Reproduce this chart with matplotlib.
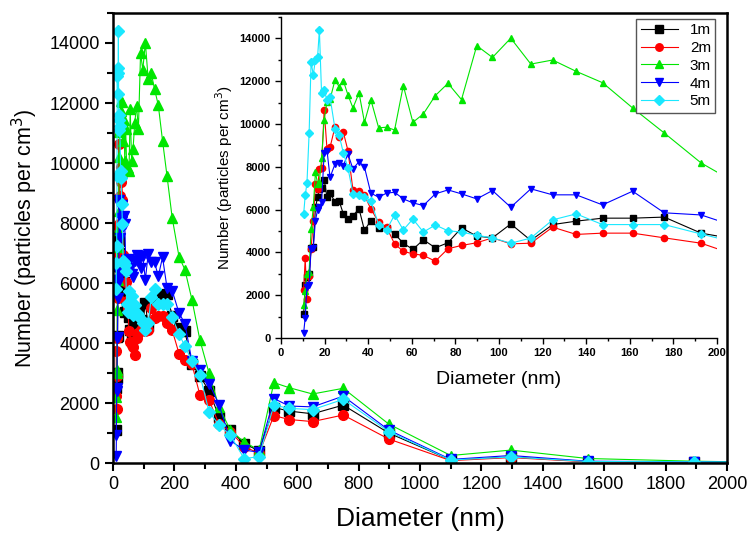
import matplotlib
matplotlib.use('Agg')
import matplotlib.pyplot as plt
from matplotlib.ticker import MultipleLocator

plt.rcParams['font.family'] = ['Liberation Sans', 'DejaVu Sans']

# diameters (nm), shared by all series
diam = [10.4, 11.1, 11.9, 12.9, 13.8, 14.8, 15.8, 16.8, 17.6, 18.6,
        19.8, 21.1, 22.5, 24.8, 26.6, 28.6, 30.7, 33.0, 35.8, 38.3,
        41.2, 44.8, 48.4, 52.1, 56.1, 60.5, 65.3, 70.8, 76.6, 82.8,
        89.8, 97.0, 105.4, 114.6, 124.6, 135.4, 147.5, 161.3, 175.8, 192.7,
        215, 234, 257, 283, 313, 345, 382, 427, 476,
        524, 574, 650, 750, 898, 1100, 1296, 1546, 1892, 2300]

n_1m = [1100, 2500, 2850, 3000, 4215, 4250, 6100, 6580, 6950, 7000,
        7400, 6580, 6770, 6350, 6420, 5800, 5570, 5720, 6035, 5025,
        5490, 5130, 5130, 4870, 4430, 4140, 4590, 4215, 4450, 5150,
        4760, 4680, 5330, 4560, 5300, 5460, 5600, 5600, 5650, 4900,
        4500, 4400, 3300, 2900, 2400, 1550, 1100, 650, 400,
        1850, 1730, 1640, 1930, 1000, 100, 200, 50, 30, 0]

n_2m = [2250, 3730, 1800, 2900, 4170, 5490, 7200, 6970, 7900, 7950,
        10650, 8835, 8910, 9880, 9380, 9610, 8760, 6920, 6860, 6660,
        6035, 5410, 5180, 4400, 4045, 3935, 3860, 3590, 4170, 4325,
        4450, 4680, 4400, 4430, 5180, 4840, 4900, 4900, 4680, 4430,
        3650, 3450, 3300, 2270, 2100, 1300, 1050, 550, 320,
        1580, 1450, 1380, 1600, 800, 80, 180, 40, 30, 0]

n_3m = [1520, 2200, 3000, 3100, 5100, 6100, 7750, 7200, 7300, 8400,
        10200, 11050, 11150, 12070, 11750, 12020, 11360, 10750, 11450, 10080,
        11140, 9820, 9850, 9720, 11790, 10080, 10470, 11330, 11900, 11140,
        13660, 13110, 14010, 12800, 12990, 12460, 11930, 10750, 9580, 8180,
        6880, 6450, 5450, 4100, 2990, 1880, 1100, 700, 430,
        2680, 2510, 2300, 2490, 1300, 250, 430, 150, 60, 0]

n_4m = [250, 950, 2400, 2500, 4170, 4200, 5490, 6000, 6110, 6350,
        8630, 8760, 7510, 8135, 8165, 8060, 8600, 7900, 8245, 7980,
        6770, 6580, 6770, 6810, 6500, 6315, 6190, 6735, 6920, 6735,
        6500, 6890, 6110, 6970, 6690, 6690, 6220, 6860, 5850, 5750,
        5000, 4650, 3400, 3100, 2650, 1950, 750, 430, 360,
        2150, 1900, 1870, 2230, 1100, 120, 250, 60, 40, 0]

n_5m = [5800, 6660, 7230, 9570, 12900, 12300, 13000, 13150, 14400, 11450,
        11600, 11100, 11250, 9750, 9500, 8650, 7950, 6750, 6700, 6600,
        6400, 5300, 5050, 5750, 5050, 5560, 4950, 5280, 5010, 4950,
        4800, 4680, 4430, 4670, 5520, 5800, 5300, 5300, 5300, 4860,
        4300, 3900, 3400, 2950, 1700, 1270, 930, 150, 210,
        1930, 1820, 1780, 2120, 1050, 100, 200, 50, 40, 0]

labels = ['1m', '2m', '3m', '4m', '5m']
colors = ['#000000', '#ff0000', '#00e600', '#0000ff', '#1ae8ff']
markers = ['s', 'o', '^', 'v', 'D']
series = [n_1m, n_2m, n_3m, n_4m, n_5m]

fig = plt.figure(figsize=(7.47, 5.37), dpi=100)
ax = fig.add_axes([113/747, 74/537, 614/747, 450/537])
ins = fig.add_axes([281/747, 199/537, 436/747, 321/537])

for ys, lab, c, m in zip(series, labels, colors, markers):
    ms = 7 if m != 'D' else 6
    ax.plot(diam, ys, color=c, marker=m, ms=ms, lw=0.8, label=lab)
    ms2 = 4.5 if m != 'D' else 4
    ins.plot(diam, ys, color=c, marker=m, ms=ms2, lw=0.8, label=lab)

# main axes
ax.set_xlim(0, 2000)
ax.set_ylim(0, 15000)
ax.xaxis.set_major_locator(MultipleLocator(200))
ax.xaxis.set_minor_locator(MultipleLocator(100))
ax.yaxis.set_major_locator(MultipleLocator(2000))
ax.yaxis.set_minor_locator(MultipleLocator(1000))
ax.tick_params(which='both', direction='out', top=False, right=False,
               width=1.5, labelsize=13)
ax.tick_params(which='major', length=6)
ax.tick_params(which='minor', length=4)
for s in ax.spines.values():
    s.set_linewidth(1.8)
ax.set_xlabel('Diameter (nm)', fontsize=19, labelpad=10)
ax.set_ylabel('Number (particles per cm$^3$)', fontsize=15.5, labelpad=7)

# inset
ins.set_xlim(0, 200)
ins.set_ylim(0, 15000)
ins.xaxis.set_major_locator(MultipleLocator(20))
ins.xaxis.set_minor_locator(MultipleLocator(10))
ins.yaxis.set_major_locator(MultipleLocator(2000))
ins.yaxis.set_minor_locator(MultipleLocator(1000))
ins.spines['top'].set_visible(False)
ins.spines['right'].set_visible(False)
for s in ['left', 'bottom']:
    ins.spines[s].set_linewidth(1.0)
ins.tick_params(which='both', direction='out', width=1.0, labelsize=8)
ins.tick_params(which='major', length=4)
ins.tick_params(which='minor', length=2.5)
for t in ins.get_xticklabels() + ins.get_yticklabels():
    t.set_fontweight('bold')
ins.set_xlabel('Diameter (nm)', fontsize=14, labelpad=9)
ins.set_ylabel('Number (particles per cm$^3$)', fontsize=11, labelpad=3)
ins.patch.set_alpha(0)

leg = ins.legend(loc='upper right', fontsize=11, fancybox=False,
                 edgecolor='#555555', framealpha=1, borderpad=0.3,
                 labelspacing=0.25, handlelength=2.4, handletextpad=0.8,
                 borderaxespad=0.1, markerscale=1.2)
leg.get_frame().set_linewidth(1.0)

fig.savefig('out.png', dpi=100)
